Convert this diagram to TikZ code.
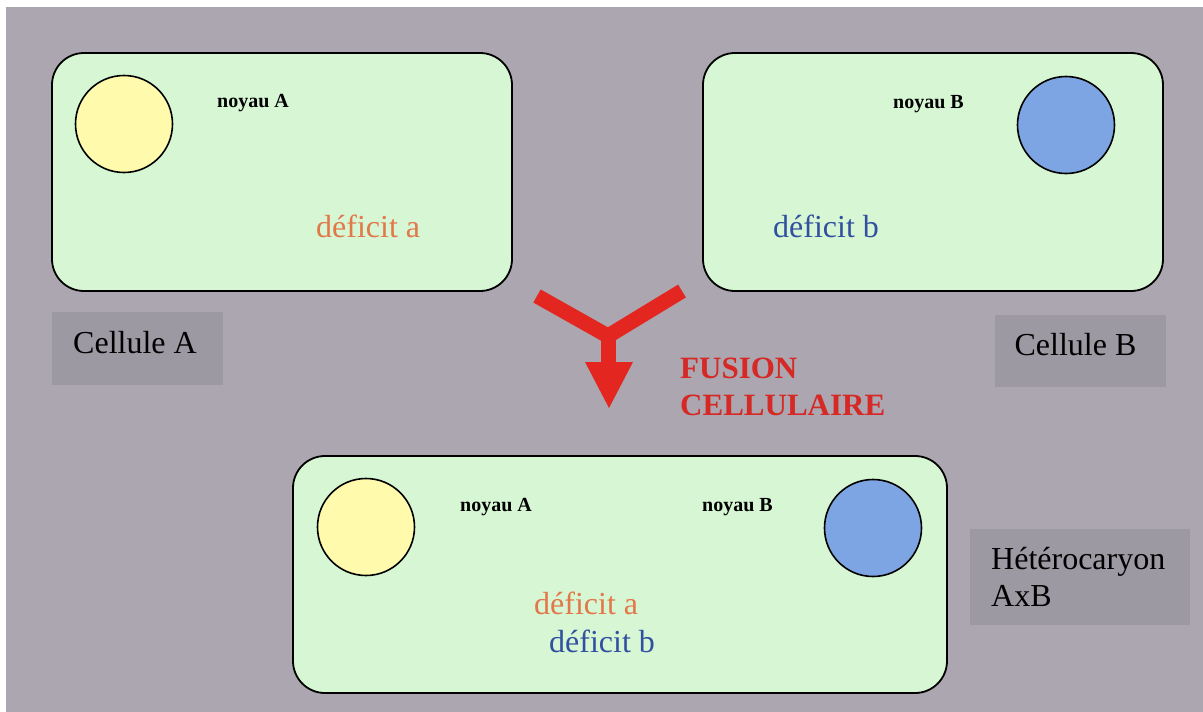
\documentclass[tikz,border=0pt]{standalone}
\usepackage{fontspec}
\setmainfont{Liberation Serif}
\definecolor{bggray}{RGB}{171,166,175}
\definecolor{labgray}{RGB}{157,153,163}
\definecolor{cellgreen}{RGB}{214,246,212}
\definecolor{nucyellow}{RGB}{255,250,172}
\definecolor{nucblue}{RGB}{125,165,228}
\definecolor{defa}{RGB}{226,120,74}
\definecolor{defb}{RGB}{50,80,160}
\definecolor{fusred}{RGB}{228,38,32}
\definecolor{fustext}{RGB}{214,40,36}
\tikzset{
  cell/.style={draw=black, line width=1.8pt, fill=cellgreen, rounded corners=32pt, rectangle, inner sep=0pt, minimum width=460pt, minimum height=238pt},
  nucleus/.style={circle, draw=black, line width=1.6pt, inner sep=0pt, minimum size=97pt},
  noyau/.style={font=\fontsize{20}{24}\selectfont\bfseries, anchor=base west, inner sep=0pt},
  bigtext/.style={font=\fontsize{32}{37}\selectfont, inner sep=0pt},
  labelbox/.style={fill=labgray, inner sep=0pt, rectangle},
  fusarm/.style={draw=fusred, line width=15pt, line cap=butt, line join=miter}
}
\begin{document}
\begin{tikzpicture}[x=1pt,y=-1pt]
\useasboundingbox (0,0) rectangle (1203,712);
\fill[white] (0,0) rectangle (1203,712);
\fill[bggray] (6,7) rectangle (1203,712);

% Cell A
\node[cell] (cellA) at (282,172) {};
\node[nucleus, fill=nucyellow] (nucA) at (124,124) {};
\node[noyau] (noyA) at (217,107) {noyau A};
\node[bigtext, anchor=base west, text=defa] (defA) at (316,237) {déficit a};

% Cell B
\node[cell] (cellB) at (933,172) {};
\node[nucleus, fill=nucblue] (nucB) at (1066,125) {};
\node[noyau] (noyB) at (893,108) {noyau B};
\node[bigtext, anchor=base west, text=defb] (defB) at (773,237) {déficit b};

% Labels
\node[labelbox, minimum width=171pt, minimum height=73pt] (labA) at (137.5,348.5) {};
\node[bigtext, anchor=base] (labAt) at (135,353) {Cellule A};
\node[labelbox, minimum width=171pt, minimum height=72pt] (labB) at (1080.5,351) {};
\node[bigtext, anchor=base] (labBt) at (1075.5,355) {Cellule B};

% Fusion arrow
\coordinate (yl) at (537,296);
\coordinate (yj) at (608,336);
\coordinate (yr) at (682,291);
\coordinate (ys) at (608,364);
\coordinate (tl) at (585,362);
\coordinate (tr) at (633,362);
\coordinate (tt) at (609,408);
\draw[fusarm] (yl) -- (yj) -- (yr);
\draw[fusarm] (yj) -- (ys);
\fill[fusred] (tl) -- (tr) -- (tt) -- cycle;
\node[font=\fontsize{31}{37}\selectfont\bfseries, text=fustext, anchor=base west, align=left, inner sep=0pt] (fus) at (680,415) {FUSION\\CELLULAIRE};

% Heterocaryon
\node[cell, minimum width=654pt, minimum height=237pt] (cellAB) at (620,574.5) {};
\node[nucleus, fill=nucyellow] (nucA2) at (366,527) {};
\node[nucleus, fill=nucblue] (nucB2) at (873,528) {};
\node[noyau] (noyA2) at (460,511) {noyau A};
\node[noyau] (noyB2) at (702,511) {noyau B};
\node[bigtext, anchor=base west, text=defa] (defA2) at (534,614) {déficit a};
\node[bigtext, anchor=base west, text=defb] (defB2) at (549,652) {déficit b};

\node[labelbox, minimum width=220pt, minimum height=96pt] (labH) at (1080,577) {};
\node[bigtext, anchor=base west, align=left] (labHt) at (991,606) {Hétérocaryon\\AxB};
\end{tikzpicture}
\end{document}
